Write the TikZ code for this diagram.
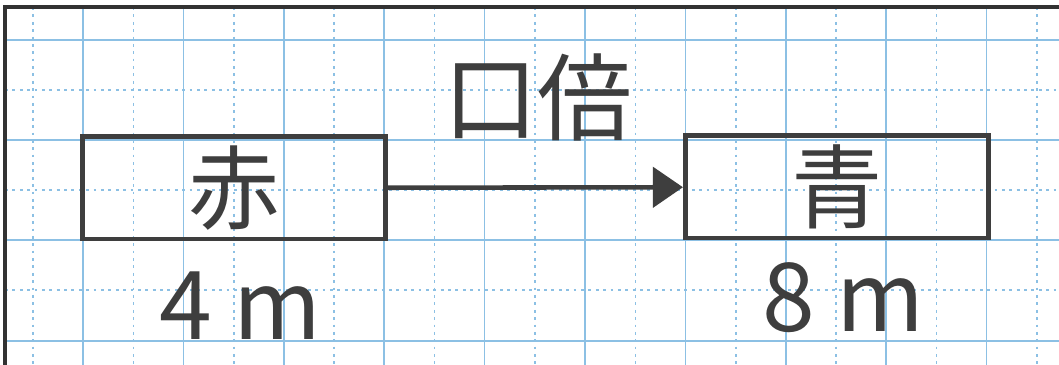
\documentclass[tikz,border=0pt]{standalone}
\usepackage{fontspec}
\setmainfont{Noto Sans CJK JP}
\usetikzlibrary{arrows.meta}
\definecolor{gridblue}{RGB}{140,192,228}
\definecolor{pencil}{RGB}{62,62,62}
\begin{document}
\begin{tikzpicture}[x=0.01cm,y=-0.01cm]
    \tikzstyle{major}=[gridblue, line width=0.4pt]
    \tikzstyle{minor}=[gridblue, line width=0.4pt, dash pattern=on 0.8pt off 1.3pt]
    \tikzstyle{box}=[draw=pencil, line width=1.4pt, minimum width=3.03cm,
                            minimum height=1.02cm, inner sep=0pt, text=pencil,
                            font=\fontsize{26}{28}\selectfont]
    \tikzstyle{amount}=[text=pencil, inner sep=0pt, font=\fontsize{27}{29}\selectfont]
    \useasboundingbox (0,0) rectangle (1059,365);
    \fill[white] (0,0) rectangle (1059,365);
    % grid
    \foreach \i in {0,...,10} \draw[minor] (33+100.4*\i,7) -- (33+100.4*\i,365);
    \foreach \i in {0,...,9} \draw[major] (83+100.4*\i,7) -- (83+100.4*\i,365);
    \foreach \y in {90,190,290} \draw[minor] (5,\y) -- (1059,\y);
    \foreach \y in {40,140,240,341} \draw[major] (5,\y) -- (1059,\y);
    % frame
    \draw[pencil!80!black, line width=1pt] (5,365) -- (5,7) -- (1059,7);

    \node[box] (red) at (234,188) {赤};
    \node[box] (blue) at (837,187) {青};
    \draw[pencil, line width=1.3pt, -{Triangle[length=0.3cm,width=0.4cm]}] (red) -- (blue);
    \node[amount] (times) at (538,97) {口倍};
    \node[amount] (redlen) at (240,306) {4 m};
    \node[amount] (bluelen) at (843,298) {8 m};
\end{tikzpicture}
\end{document}
